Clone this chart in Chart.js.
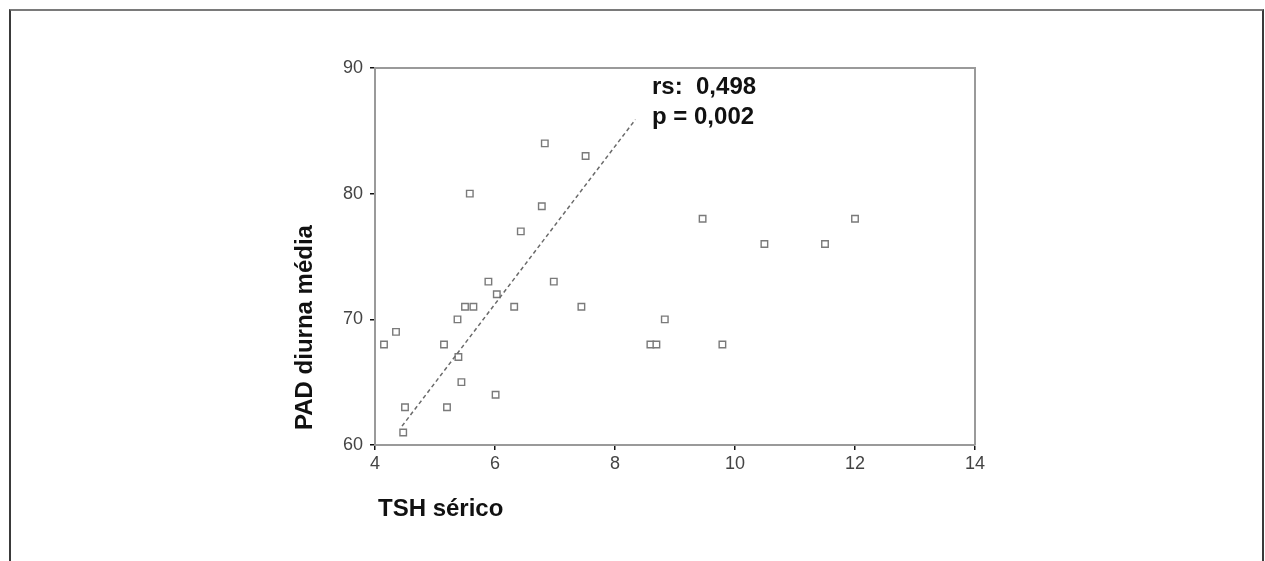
<!DOCTYPE html>
<html>
<head>
<meta charset="utf-8">
<script src="https://cdn.jsdelivr.net/npm/chart.js@4.4.1/dist/chart.umd.min.js"></script>
<style>
  html, body { margin:0; padding:0; background:#fff; overflow:hidden; }
  #wrap { position:relative; width:1265px; height:561px; }
  #frame { position:absolute; left:9px; top:9px; width:1251px; height:600px;
           border-top:2px solid #7a7a7a; border-left:2px solid #3a3a3a; border-right:2px solid #3a3a3a; }
  canvas { position:absolute; left:0; top:0; }
</style>
</head>
<body>
<div id="wrap">
  <div id="frame"></div>
  <canvas id="c" width="1265" height="561"></canvas>
</div>
<script>
// TSH sérico (x) vs PAD diurna média (y)
const tshValues = [6.83, 7.51, 5.58, 6.78, 6.43, 9.46, 12.0, 10.49, 11.5, 5.89,
                   6.98, 6.03, 5.50, 5.64, 6.32, 7.44, 5.375, 8.83, 4.35, 4.15,
                   5.15, 8.59, 8.69, 9.79, 5.39, 5.44, 6.01, 4.50, 5.20, 4.47];
const padValues = [84, 83, 80, 79, 77, 78, 78, 76, 76, 73,
                   73, 72, 71, 71, 71, 71, 70, 70, 69, 68,
                   68, 68, 68, 68, 67, 65, 64, 63, 63, 61];
const fitX = [4.45, 8.34];
const fitY = [61.5, 85.9];
const xTicks = [4, 6, 8, 10, 12, 14];
const yTicks = [60, 70, 80, 90];
const xTitle = 'TSH sérico';
const yTitle = 'PAD diurna média';
const statLines = ['rs:  0,498', 'p = 0,002'];

const points = tshValues.map((x, i) => ({ x: x, y: padValues[i] }));
const fitLine = fitX.map((x, i) => ({ x: x, y: fitY[i] }));

const decor = {
  id: 'decor',
  afterDraw(chart) {
    const ctx = chart.ctx, a = chart.chartArea;
    ctx.save();
    // top & right frame of plot
    ctx.strokeStyle = '#9a9a9a';
    ctx.lineWidth = 2;
    ctx.beginPath();
    ctx.moveTo(a.left, a.top);
    ctx.lineTo(a.right, a.top);
    ctx.lineTo(a.right, a.bottom);
    ctx.stroke();
    ctx.fillStyle = '#111';
    ctx.font = 'bold 24px "Liberation Sans", Arial, sans-serif';
    ctx.textAlign = 'left';
    ctx.textBaseline = 'alphabetic';
    ctx.fillText(statLines[0], 652, 94);
    ctx.fillText(statLines[1], 652, 124);
    // x title
    ctx.fillText(xTitle, 378, 516);
    // y title
    ctx.translate(312, 430);
    ctx.rotate(-Math.PI / 2);
    ctx.fillText(yTitle, 0, 0);
    ctx.restore();
  }
};

new Chart(document.getElementById('c'), {
  type: 'scatter',
  data: {
    datasets: [
      {
        data: fitLine,
        showLine: true,
        borderColor: '#6a6a6a',
        borderWidth: 1.5,
        borderDash: [4, 3],
        pointRadius: 0,
        fill: false
      },
      {
        data: points,
        pointStyle: 'rect',
        pointRadius: 4.6,
        pointBorderWidth: 1.4,
        pointBorderColor: '#7a7a7a',
        pointBackgroundColor: '#ffffff'
      }
    ]
  },
  options: {
    responsive: false,
    animation: false,
    devicePixelRatio: 1,
    layout: { padding: { left: 0, right: 290, top: 68, bottom: 0 } },
    plugins: { legend: { display: false }, tooltip: { enabled: false } },
    scales: {
      x: {
        type: 'linear', min: 4, max: 14,
        afterBuildTicks(s) { s.ticks = xTicks.map(v => ({ value: v })); },
        afterFit(s) { s.height = 116; },
        grid: { drawOnChartArea: false, color: '#111', tickLength: 5, lineWidth: 1.5 },
        border: { color: '#9a9a9a', width: 2 },
        ticks: { color: '#444', font: { family: '"Liberation Sans", Arial, sans-serif', size: 18 }, padding: 3, maxRotation: 0 }
      },
      y: {
        type: 'linear', min: 60, max: 90,
        afterBuildTicks(s) { s.ticks = yTicks.map(v => ({ value: v })); },
        afterFit(s) { s.width = 375; },
        grid: { drawOnChartArea: false, color: '#111', tickLength: 5, lineWidth: 1.5 },
        border: { color: '#9a9a9a', width: 2 },
        ticks: { color: '#444', font: { family: '"Liberation Sans", Arial, sans-serif', size: 18 }, padding: 7 }
      }
    }
  },
  plugins: [decor]
});
</script>
</body>
</html>
